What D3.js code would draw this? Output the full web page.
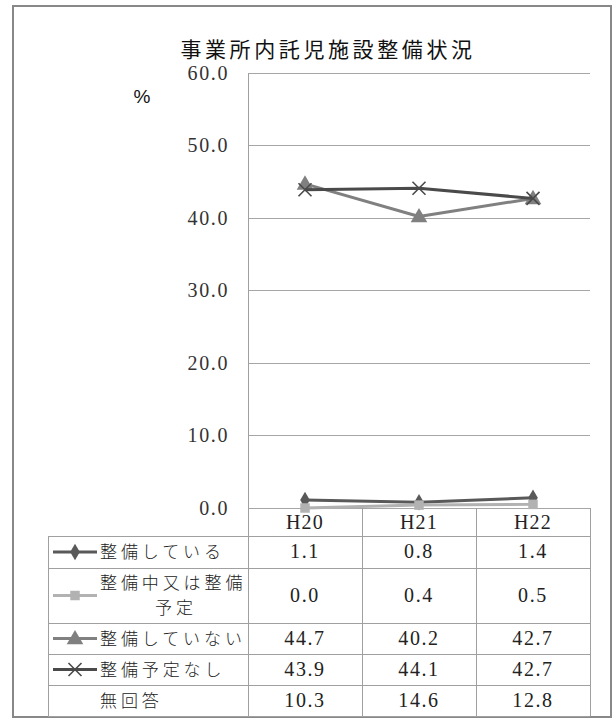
<!DOCTYPE html>
<html><head><meta charset="utf-8">
<script src="https://cdnjs.cloudflare.com/ajax/libs/d3/7.8.5/d3.min.js"></script>
<style>
body{margin:0;background:#fff;}
svg{display:block;}
</style></head>
<body>
<svg id="c" width="614" height="720"></svg>
<script>
const title = "事業所内託児施設整備状況";
const categories = ["H20", "H21", "H22"];
const seriesNames = ["整備している", "整備中又は整備予定", "整備していない", "整備予定なし", "無回答"];
const seriesLabelLines = [["整備している"], ["整備中又は整備", "予定"], ["整備していない"], ["整備予定なし"], ["無回答"]];
const valuesSeikatsu = [1.1, 0.8, 1.4];
const valuesYotei = [0.0, 0.4, 0.5];
const valuesNai = [44.7, 40.2, 42.7];
const valuesYoteiNashi = [43.9, 44.1, 42.7];
const valuesMukaitou = [10.3, 14.6, 12.8];
const yTicks = [0, 10, 20, 30, 40, 50, 60];
const seriesValues = [valuesSeikatsu, valuesYotei, valuesNai, valuesYoteiNashi, valuesMukaitou];
const seriesColors = ["#595959", "#b2b2b2", "#808080", "#4a4a4a", null];
const seriesMarkers = ["diamond", "square", "triangle", "x", null];

const SERIF = "'Liberation Serif', 'DejaVu Serif', serif";
const CJK = "'Noto Sans CJK JP'";

const svg = d3.select("#c");
const L = 248, R = 590, T = 73, B = 508;
const tableLeft = 48;
const rowEdges = [536, 568, 623, 654, 685, 716];

// outer border
svg.append("rect").attr("x", 13).attr("y", 6).attr("width", 598).attr("height", 711)
  .attr("fill", "none").attr("stroke", "#888").attr("stroke-width", 2);

// title
svg.append("text").attr("x", 328).attr("y", 57).attr("text-anchor", "middle")
  .attr("font-family", CJK).attr("font-size", 21).attr("font-weight", 400).attr("letter-spacing", 3.6)
  .attr("fill", "#111").text(title);

// % label
svg.append("text").attr("x", 142).attr("y", 103).attr("text-anchor", "middle")
  .attr("font-family", "'Liberation Sans', Arial").attr("font-size", 19).attr("fill", "#111").text("%");

const y = d3.scaleLinear().domain([0, 60]).range([B, T]);
const x = d3.scaleBand().domain(categories).range([L, R]).padding(0);
const xc = d => x(d) + x.bandwidth() / 2;

// gridlines
svg.append("g").selectAll("line").data(yTicks).join("line")
  .attr("x1", L).attr("x2", R).attr("y1", d => y(d)).attr("y2", d => y(d))
  .attr("stroke", "#a6a6a6").attr("stroke-width", 1).attr("shape-rendering", "crispEdges");

// y axis
const yAxis = svg.append("g").attr("transform", `translate(${L},0)`)
  .call(d3.axisLeft(y).tickValues(yTicks).tickFormat(d3.format(".1f")).tickSize(0).tickPadding(19));
yAxis.select(".domain").remove();
yAxis.selectAll("text").attr("font-family", SERIF).attr("font-size", 20).attr("letter-spacing", 1.6).attr("fill", "#333");

// table grid
const g = svg.append("g").attr("stroke", "#a0a0a0").attr("stroke-width", 1).attr("shape-rendering", "crispEdges");
g.append("line").attr("x1", L).attr("x2", L).attr("y1", T).attr("y2", rowEdges[rowEdges.length - 1]);
categories.forEach(c => {
  g.append("line").attr("x1", x(c) + x.bandwidth()).attr("x2", x(c) + x.bandwidth())
    .attr("y1", B).attr("y2", rowEdges[rowEdges.length - 1]);
});
rowEdges.forEach(r => g.append("line").attr("x1", tableLeft).attr("x2", R).attr("y1", r).attr("y2", r));
g.append("line").attr("x1", tableLeft).attr("x2", tableLeft).attr("y1", rowEdges[0]).attr("y2", rowEdges[rowEdges.length - 1]);

// header
svg.append("g").selectAll("text").data(categories).join("text")
  .attr("x", d => xc(d)).attr("y", (B + rowEdges[0]) / 2 + 7).attr("text-anchor", "middle")
  .attr("font-family", SERIF).attr("font-size", 20).attr("letter-spacing", 1.2).attr("fill", "#222").text(d => d);

function marker(sel, type, color, cx, cy) {
  if (type === "diamond") {
    sel.append("path").attr("d", d3.symbol(d3.symbolDiamond, 80)()).attr("transform", `translate(${cx},${cy})`).attr("fill", color);
  } else if (type === "square") {
    sel.append("path").attr("d", d3.symbol(d3.symbolSquare, 90)()).attr("transform", `translate(${cx},${cy})`).attr("fill", color);
  } else if (type === "triangle") {
    sel.append("path").attr("d", d3.symbol(d3.symbolTriangle, 120)()).attr("transform", `translate(${cx},${cy + 1})`).attr("fill", color);
  } else if (type === "x") {
    const s = 6.5;
    sel.append("path").attr("d", `M${cx - s},${cy - s}L${cx + s},${cy + s}M${cx - s},${cy + s}L${cx + s},${cy - s}`)
      .attr("stroke", color).attr("stroke-width", 1.6).attr("fill", "none");
  }
}

// lines
const line = d3.line().x((d, i) => xc(categories[i])).y(d => y(d));
seriesValues.forEach((vals, si) => {
  if (!seriesColors[si]) return;
  const gs = svg.append("g");
  gs.append("path").attr("d", line(vals)).attr("fill", "none").attr("stroke", seriesColors[si]).attr("stroke-width", 3).attr("stroke-linejoin", "round");
  vals.forEach((v, i) => marker(gs, seriesMarkers[si], seriesColors[si], xc(categories[i]), y(v)));
});

// table rows
seriesNames.forEach((name, si) => {
  const top = rowEdges[si], bot = rowEdges[si + 1], mid = (top + bot) / 2;
  const gr = svg.append("g");
  if (seriesColors[si]) {
    gr.append("line").attr("x1", 53).attr("x2", 97).attr("y1", mid).attr("y2", mid)
      .attr("stroke", seriesColors[si]).attr("stroke-width", 3);
    marker(gr, seriesMarkers[si], seriesColors[si], 75, mid);
  }
  const lines = seriesLabelLines[si];
  lines.forEach((t, li) => {
    const ty = mid + (li - (lines.length - 1) / 2) * 25 + 6;
    gr.append("text").attr("x", li === 0 ? 100 : 176).attr("y", ty).attr("text-anchor", li === 0 ? "start" : "middle")
      .attr("font-family", CJK).attr("font-size", 17).attr("font-weight", 300).attr("letter-spacing", 3.9).attr("fill", "#222").text(t);
  });
  seriesValues[si].forEach((v, i) => {
    gr.append("text").attr("x", xc(categories[i])).attr("y", mid + 6).attr("text-anchor", "middle")
      .attr("font-family", SERIF).attr("font-size", 20).attr("letter-spacing", 1.6).attr("fill", "#222").text(d3.format(".1f")(v));
  });
});
</script>
</body></html>
